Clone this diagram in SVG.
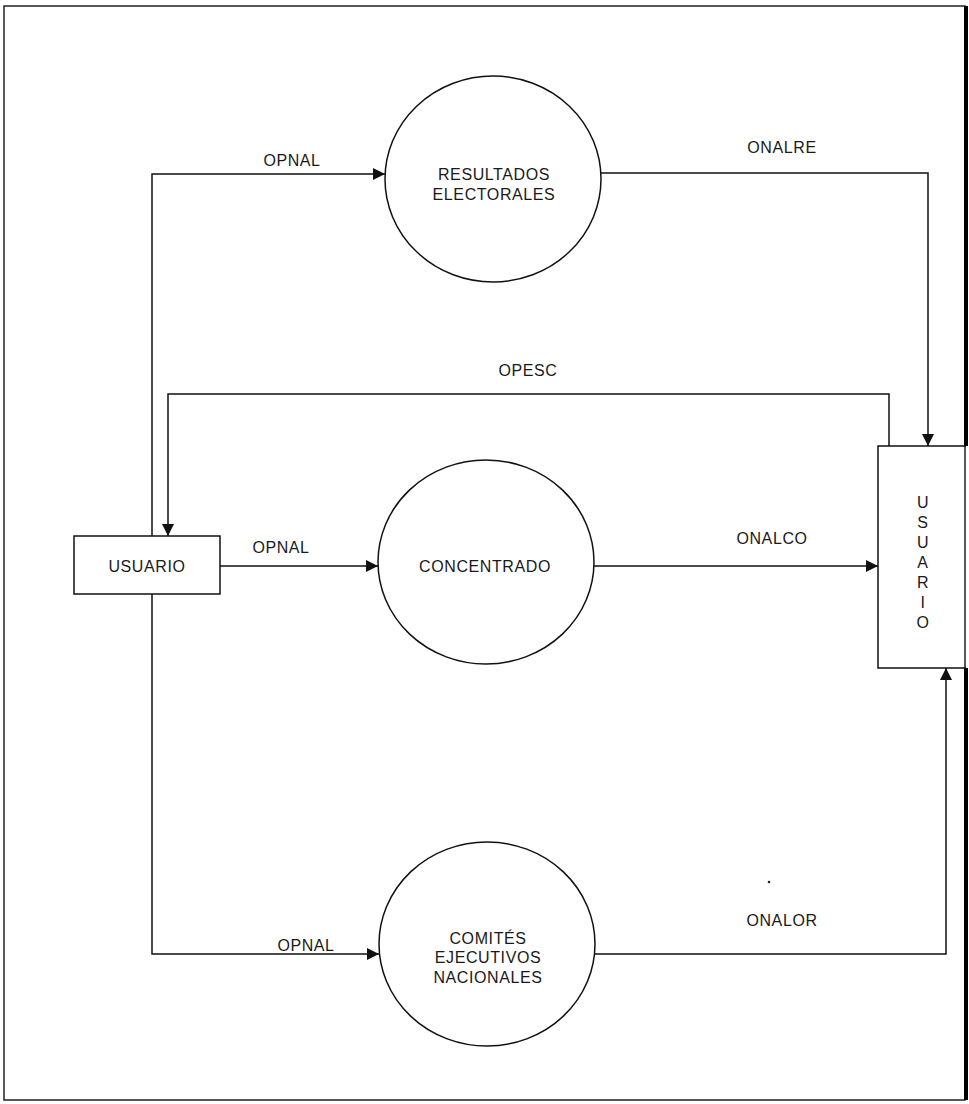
<svg xmlns="http://www.w3.org/2000/svg" width="969" height="1104" viewBox="0 0 969 1104">
<style>
.t{font-family:"Liberation Sans",Arial,sans-serif;font-size:16px;fill:#1a1a1a;text-anchor:middle;letter-spacing:0.6px}
.s{fill:#fff;stroke:#111;stroke-width:1.5}
.c{fill:none;stroke:#111;stroke-width:1.5}
</style>
<defs>
<marker id="ar" markerUnits="userSpaceOnUse" markerWidth="14" markerHeight="14" refX="12" refY="7" orient="auto">
<path d="M0,1 L12,7 L0,13 Z" fill="#111"/>
</marker>
</defs>
<rect x="0" y="0" width="969" height="1104" fill="#fff"/>
<g id="border">
<rect x="4" y="6" width="961" height="1094" fill="none" stroke="#222" stroke-width="1.5"/>
<line x1="966" y1="6" x2="966" y2="446" stroke="#000" stroke-width="4"/>
<line x1="966" y1="668" x2="966" y2="1100" stroke="#000" stroke-width="4"/>
</g>
<g id="connectors">
<path class="c" d="M152,536 V174 H385" marker-end="url(#ar)"/>
<path class="c" d="M220,566 H378" marker-end="url(#ar)"/>
<path class="c" d="M152,594 V954 H379" marker-end="url(#ar)"/>
<path class="c" d="M601,173 H928 V446" marker-end="url(#ar)"/>
<path class="c" d="M889,446 V394 H168 V536" marker-end="url(#ar)"/>
<path class="c" d="M594,566 H878" marker-end="url(#ar)"/>
<path class="c" d="M595,954 H946 V668" marker-end="url(#ar)"/>
<text class="t" x="292" y="166">OPNAL</text>
<text class="t" x="782" y="153">ONALRE</text>
<text class="t" x="528" y="376">OPESC</text>
<text class="t" x="281" y="553">OPNAL</text>
<text class="t" x="772" y="544">ONALCO</text>
<text class="t" x="306" y="951">OPNAL</text>
<text class="t" x="782" y="926">ONALOR</text>
<circle cx="769" cy="882" r="1.3" fill="#222"/>
</g>
<g id="usuario-left">
<rect class="s" x="74" y="536" width="146" height="58"/>
<text class="t" x="147" y="572">USUARIO</text>
</g>
<g id="usuario-right">
<path class="c" d="M966,446 H878 V668 H966"/>
<text class="t" x="923" y="508">U</text>
<text class="t" x="923" y="528">S</text>
<text class="t" x="923" y="548">U</text>
<text class="t" x="923" y="568">A</text>
<text class="t" x="923" y="588">R</text>
<text class="t" x="923" y="608">I</text>
<text class="t" x="923" y="628">O</text>
</g>
<g id="resultados">
<ellipse class="s" cx="493" cy="179" rx="108" ry="103"/>
<text class="t" x="494" y="180">RESULTADOS</text>
<text class="t" x="494" y="200">ELECTORALES</text>
</g>
<g id="concentrado">
<ellipse class="s" cx="486" cy="562" rx="108" ry="102"/>
<text class="t" x="485" y="572">CONCENTRADO</text>
</g>
<g id="comites">
<ellipse class="s" cx="487" cy="944" rx="108" ry="102"/>
<text class="t" x="488" y="944">COMITÉS</text>
<text class="t" x="488" y="963">EJECUTIVOS</text>
<text class="t" x="488" y="983">NACIONALES</text>
</g>
</svg>
